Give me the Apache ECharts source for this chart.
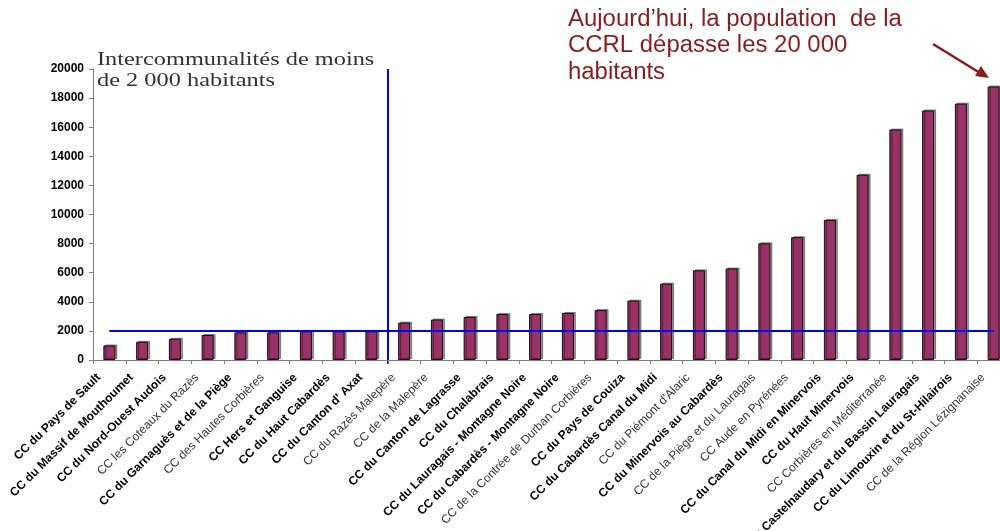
<!DOCTYPE html>
<html>
<head>
<meta charset="utf-8">
<script src="https://cdn.jsdelivr.net/npm/echarts@6/dist/echarts.min.js"></script>
<style>
  html, body { margin: 0; padding: 0; background: #fff; }
  #chart { width: 1000px; height: 531px; }
</style>
</head>
<body>
<div id="chart"></div>
<script>
// Communautés de communes, sorted by population
const communes = [
    'CC du Pays de Sault',
    'CC du Massif de Mouthoumet',
    'CC du Nord-Ouest Audois',
    'CC les Coteaux du Razès',
    'CC du Garnaguès et de la Piège',
    'CC des Hautes Corbières',
    'CC Hers et Ganguise',
    'CC du Haut Cabardès',
    "CC du Canton d' Axat",
    'CC du Razès Malepère',
    'CC de la Malepère',
    'CC du Canton de Lagrasse',
    'CC du Chalabrais',
    'CC du Lauragais - Montagne Noire',
    'CC du Cabardès - Montagne Noire',
    'CC de la Contrée de Durban Corbières',
    'CC du Pays de Couiza',
    'CC du Cabardès Canal du Midi',
    "CC du Piémont d'Alaric",
    'CC du Minervois au Cabardès',
    'CC de la Piège et du Lauragais',
    'CC Aude en Pyrénées',
    'CC du Canal du Midi en Minervois',
    'CC du Haut Minervois',
    'CC Corbières en Méditerranée',
    'CC du Castelnaudary et du Bassin Lauragais',
    'CC du Limouxin et du St-Hilairois',
    'CC de la Région Lézignanaise'
];

// Population (habitants)
const population = [
    1000, 1250, 1460, 1720, 1900, 1900, 1970, 1970, 1970,
    2570, 2780, 2960, 3160, 3160, 3230, 3430, 4080, 5250,
    6160, 6290, 8020, 8440, 9630, 12730, 15840, 17150, 17620, 18800
];

// Threshold line (habitants)
const threshold = 2000;
// Last "small" intercommunality (index), the split goes right after it
const lastSmall = 8;

// Labels drawn in the lighter font in the original
const lightLabels = [3, 5, 9, 10, 15, 18, 20, 21, 24, 27];

const yTicks = { min: 0, max: 20000, interval: 2000 };

const myChart = echarts.init(document.getElementById('chart'));

const chartOptions = {
    animation: false,
    grid: {
        left: 93, right: -10, top: 69, bottom: 171,
        containLabel: false,
        outerBoundsMode: 'none'
    },
    xAxis: {
        type: 'category',
        data: communes,
        axisLine: { lineStyle: { color: '#808080', width: 1 } },
        axisTick: { show: true, interval: 0, length: 4, lineStyle: { color: '#808080' } },
        axisLabel: {
            interval: 0,
            rotate: 45,
            margin: 5,
            formatter: function (value, idx) {
                return lightLabels.indexOf(idx) >= 0 ? '{l|' + value + '}' : '{b|' + value + '}';
            },
            rich: {
                b: {
                    fontFamily: 'Liberation Sans, Arial, sans-serif', fontSize: 12,
                    fontWeight: 'bold', color: '#000', padding: [0, 15, 0, 0]
                },
                l: {
                    fontFamily: 'Liberation Sans, Arial, sans-serif', fontSize: 12,
                    fontWeight: 'normal', color: '#333', padding: [0, 15, 0, 0]
                }
            }
        }
    },
    yAxis: {
        type: 'value',
        min: yTicks.min,
        max: yTicks.max,
        interval: yTicks.interval,
        axisLine: { show: true, lineStyle: { color: '#808080', width: 1 } },
        axisTick: { show: true, length: 4, lineStyle: { color: '#808080' } },
        splitLine: { show: false },
        axisLabel: {
            margin: 9,
            formatter: function (v) { return String(v); },
            fontFamily: 'Liberation Sans, Arial, sans-serif',
            fontSize: 12,
            fontWeight: 'bold',
            color: '#000'
        }
    },
    series: [{
        name: 'population',
        type: 'bar',
        data: population,
        barWidth: 12,
        itemStyle: {
            color: '#993366',
            borderColor: '#1a0a10',
            borderWidth: 1,
            shadowColor: 'rgba(0,0,0,0.4)',
            shadowOffsetX: 2,
            shadowOffsetY: -1,
            shadowBlur: 0
        },
        markLine: {
            silent: true,
            symbol: 'none',
            label: { show: false },
            lineStyle: { color: '#0000ff', width: 2, type: 'solid' },
            data: [[
                { coord: [0, threshold] },
                { coord: [communes.length - 1, threshold] }
            ]]
        }
    }]
};

myChart.setOption(chartOptions);

// Vertical split line between the small and the bigger intercommunalities
const xa = myChart.convertToPixel({ xAxisIndex: 0 }, lastSmall);
const xb = myChart.convertToPixel({ xAxisIndex: 0 }, lastSmall + 1);
const splitX = Math.round((xa + xb) / 2);
const yTop = myChart.convertToPixel({ yAxisIndex: 0 }, yTicks.max);
const yBottom = myChart.convertToPixel({ yAxisIndex: 0 }, 0);

myChart.setOption({
    graphic: [
        {
            type: 'line',
            silent: true,
            shape: { x1: splitX, y1: yTop, x2: splitX, y2: yBottom + 4 },
            style: { stroke: '#0000ff', lineWidth: 2 }
        },
        {
            type: 'text',
            x: 97,
            y: 50,
            scaleX: 1.31,
            style: {
                text: 'Intercommunalités de moins\nde 2 000 habitants',
                font: '18.6px "Liberation Serif", "Times New Roman", serif',
                lineHeight: 21,
                fill: '#333'
            }
        },
        {
            type: 'text',
            x: 568,
            y: 6,
            scaleX: 1.04,
            style: {
                text: 'Aujourd\u2019hui, la population  de la\nCCRL dépasse les 20 000\nhabitants',
                font: '23px "Liberation Sans", Arial, sans-serif',
                lineHeight: 26.5,
                fill: '#8b1a1a'
            }
        },
        {
            type: 'line',
            silent: true,
            shape: { x1: 933, y1: 44, x2: 980, y2: 73 },
            style: { stroke: '#8b1a1a', lineWidth: 2.5 }
        },
        {
            type: 'polygon',
            silent: true,
            shape: { points: [[989, 78], [975, 76], [981, 66]] },
            style: { fill: '#8b1a1a' }
        }
    ]
});
</script>
</body>
</html>
